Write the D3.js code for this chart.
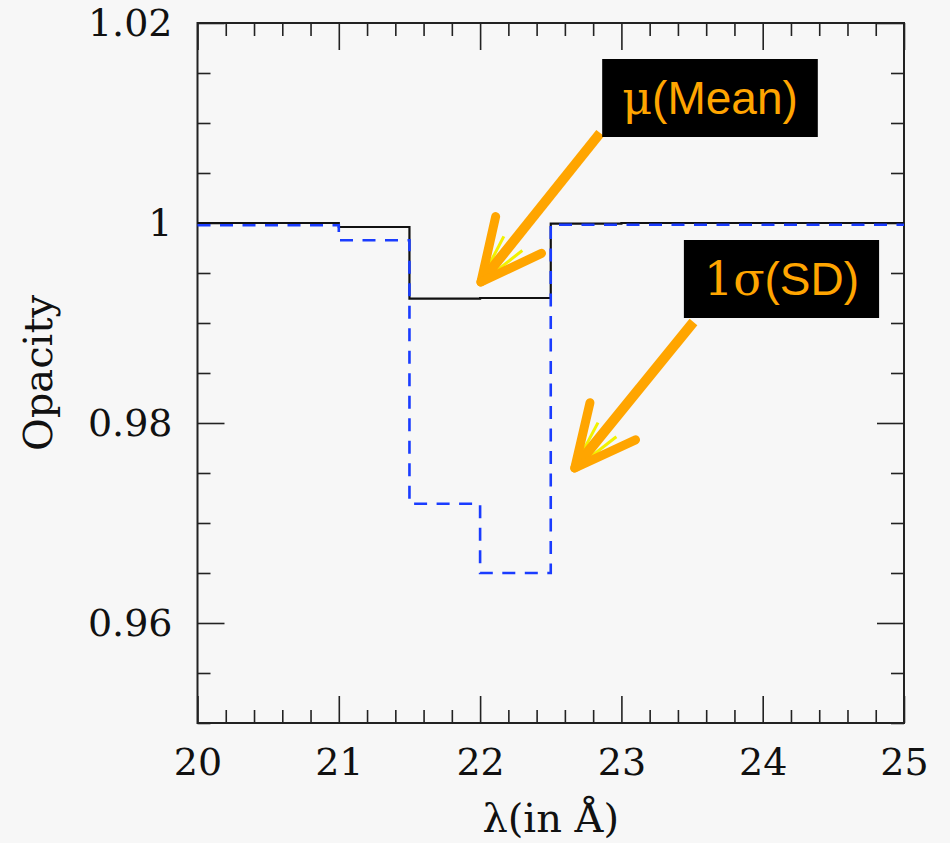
<!DOCTYPE html>
<html>
<head>
<meta charset="utf-8">
<script src="https://cdn.jsdelivr.net/npm/d3@7"></script>
<style>
    body { margin: 0; background: #f7f7f7; }
    svg { display: block; }
    .tick text { font-family: "DejaVu Serif", serif; font-size: 38px; fill: #111; }
</style>
</head>
<body>
<svg id="chart"></svg>
<script>
// bin edges in Angstrom, values per bin (last edge closes the last bin)
var binEdges = [20, 20.5, 21, 21.5, 22, 22.5, 23, 23.5, 24, 24.5, 25];
var meanValues = [1.0000, 1.0000, 0.9996, 0.99243, 0.99250, 0.99993, 1.0000, 1.0000, 1.0000, 1.0000];
var sdValues = [0.99977, 0.99977, 0.99827, 0.97193, 0.96500, 0.99983, 0.99983, 0.99983, 0.99983, 0.99983];

var xTicks = [20, 21, 22, 23, 24, 25];
var yTicks = [0.96, 0.98, 1, 1.02];

// annotations: label, text anchor (data coords), arrow start / tip (data coords)
var notes = [
    { label: ["\u03bc", "(Mean)"], box: [23.627, 1.0109], start: [22.85, 1.0090], tip: [22.006, 0.9941] },
    { label: ["1\u03c3", "(SD)"], box: [24.133, 0.9928], start: [23.51, 0.9901], tip: [22.67, 0.9755] }
];

var width = 950,
    height = 843;

var svg = d3.select("#chart")
    .attr("width", width)
    .attr("height", height);

svg.append("rect")
    .attr("width", width)
    .attr("height", height)
    .attr("fill", "#f7f7f7");

var x = d3.scaleLinear().domain([20, 25]).range([197.5, 904]);
var y = d3.scaleLinear().domain([0.95, 1.02]).range([723, 23]);

var minorX = d3.range(0, 26).filter(function(i) { return i % 5 != 0; })
    .map(function(i) { return 20 + i * 0.2; });
var minorY = d3.range(0, 15).filter(function(i) { return i % 4 != 2; })
    .map(function(i) { return 0.95 + i * 0.005; });

function styleAxis(g) {
    g.select(".domain").remove();
    g.selectAll("line").attr("stroke", "#222").attr("stroke-width", 1.6);
}

// major ticks with labels
svg.append("g").attr("transform", "translate(0," + y(0.95) + ")")
    .call(d3.axisBottom(x).tickValues(xTicks).tickSize(-27).tickPadding(25).tickFormat(d3.format("d")))
    .call(styleAxis);
svg.append("g").attr("transform", "translate(" + x(20) + ",0)")
    .call(d3.axisLeft(y).tickValues(yTicks).tickSize(-27).tickPadding(25).tickFormat(function(d) { return d == 1 ? "1" : d3.format(".2f")(d); }))
    .call(styleAxis);
svg.append("g").attr("transform", "translate(0," + y(1.02) + ")")
    .call(d3.axisTop(x).tickValues(xTicks).tickSize(-27).tickFormat(""))
    .call(styleAxis);
svg.append("g").attr("transform", "translate(" + x(25) + ",0)")
    .call(d3.axisRight(y).tickValues(yTicks).tickSize(-27).tickFormat(""))
    .call(styleAxis);

// minor ticks
svg.append("g").attr("transform", "translate(0," + y(0.95) + ")")
    .call(d3.axisBottom(x).tickValues(minorX).tickSize(-13).tickFormat(""))
    .call(styleAxis);
svg.append("g").attr("transform", "translate(0," + y(1.02) + ")")
    .call(d3.axisTop(x).tickValues(minorX).tickSize(-13).tickFormat(""))
    .call(styleAxis);
svg.append("g").attr("transform", "translate(" + x(20) + ",0)")
    .call(d3.axisLeft(y).tickValues(minorY).tickSize(-13).tickFormat(""))
    .call(styleAxis);
svg.append("g").attr("transform", "translate(" + x(25) + ",0)")
    .call(d3.axisRight(y).tickValues(minorY).tickSize(-13).tickFormat(""))
    .call(styleAxis);

// frame
svg.append("rect")
    .attr("x", x(20))
    .attr("y", y(1.02))
    .attr("width", x(25) - x(20))
    .attr("height", y(0.95) - y(1.02))
    .attr("fill", "none")
    .attr("stroke", "#222")
    .attr("stroke-width", 2);

// step lines
function stepPoints(vals) {
    var pts = vals.map(function(v, i) { return [binEdges[i], v]; });
    pts.push([binEdges[binEdges.length - 1], vals[vals.length - 1]]);
    return pts;
}

var line = d3.line()
    .x(function(d) { return x(d[0]); })
    .y(function(d) { return y(d[1]); })
    .curve(d3.curveStepAfter);

svg.append("path")
    .datum(stepPoints(meanValues))
    .attr("d", line)
    .attr("fill", "none")
    .attr("stroke", "#111")
    .attr("stroke-width", 2.2);

svg.append("path")
    .datum(stepPoints(sdValues))
    .attr("d", line)
    .attr("fill", "none")
    .attr("stroke", "#1a3cff")
    .attr("stroke-width", 2.6)
    .attr("stroke-dasharray", "13,9.5");

// axis titles
svg.append("text")
    .attr("x", (x(20) + x(25)) / 2)
    .attr("y", 832)
    .attr("text-anchor", "middle")
    .style("font-family", "DejaVu Serif, serif")
    .style("font-size", "40px")
    .attr("fill", "#111")
    .text("\u03bb(in \u00c5)");

svg.append("text")
    .attr("transform", "translate(52," + (y(0.95) + y(1.02)) / 2 + ") rotate(-90)")
    .attr("text-anchor", "middle")
    .style("font-family", "DejaVu Serif, serif")
    .style("font-size", "40px")
    .attr("fill", "#111")
    .text("Opacity");

// annotations
var orange = "#ffa500";

notes.forEach(function(n) {
    var sx = x(n.start[0]), sy = y(n.start[1]);
    var tx = x(n.tip[0]), ty = y(n.tip[1]);
    var ang = Math.atan2(sy - ty, sx - tx);
    var g = svg.append("g");

    [[-12, 51], [14, 52]].forEach(function(h) {
        var a = ang + h[0] * Math.PI / 180;
        g.append("line")
            .attr("x1", tx - 4 * Math.cos(ang)).attr("y1", ty - 4 * Math.sin(ang))
            .attr("x2", tx + h[1] * Math.cos(a)).attr("y2", ty + h[1] * Math.sin(a))
            .attr("stroke", "#f2f200").attr("stroke-width", 3);
    });

    g.append("line")
        .attr("x1", sx).attr("y1", sy)
        .attr("x2", tx).attr("y2", ty)
        .attr("stroke", orange).attr("stroke-width", 10)
        .attr("stroke-linecap", "butt");

    [-26, 26].forEach(function(deg) {
        var a = ang + deg * Math.PI / 180;
        g.append("line")
            .attr("x1", tx).attr("y1", ty)
            .attr("x2", tx + 67 * Math.cos(a)).attr("y2", ty + 67 * Math.sin(a))
            .attr("stroke", orange).attr("stroke-width", 9)
            .attr("stroke-linecap", "round");
    });

    var bx = x(n.box[0]), by = y(n.box[1]);
    var box = g.append("rect").attr("fill", "#000");
    var t = g.append("text")
        .attr("x", bx)
        .attr("y", by)
        .attr("text-anchor", "middle")
        .attr("fill", orange)
        .style("font-family", "Liberation Sans, Arial, sans-serif")
        .style("font-size", "46px");
    t.append("tspan").style("font-family", "DejaVu Serif, serif").text(n.label[0]);
    t.append("tspan").text(n.label[1]);
    var bb = t.node().getBBox();
    box.attr("x", bb.x - 20).attr("y", by - 55)
        .attr("width", bb.width + 40).attr("height", 78);
});
</script>
</body>
</html>
